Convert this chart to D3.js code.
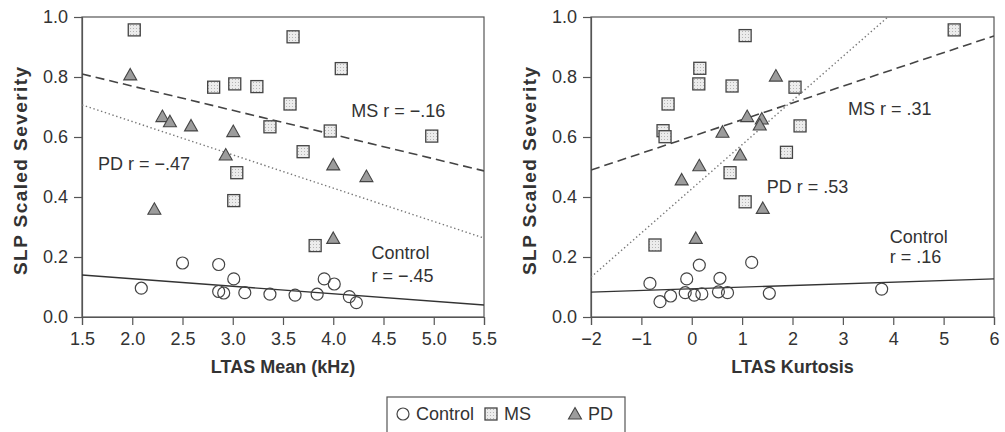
<!DOCTYPE html>
<html><head><meta charset="utf-8">
<script src="https://cdn.jsdelivr.net/npm/d3@7"></script>
<style>
body{margin:0;background:#fff;}
svg{display:block;font-family:"Liberation Sans",Arial,Helvetica,sans-serif;}
</style></head>
<body><svg id="c" width="1005" height="432"></svg>
<script>
// ---- data ----
const meanControl = [[2.09,0.096],[2.50,0.18],[2.86,0.175],[2.86,0.085],[2.91,0.08],[3.01,0.127],[3.12,0.081],[3.37,0.076],[3.62,0.073],[3.84,0.076],[3.91,0.127],[4.01,0.11],[4.16,0.068],[4.23,0.048]];
const meanMS = [[2.02,0.957],[2.81,0.766],[3.02,0.777],[3.24,0.768],[3.60,0.934],[4.08,0.828],[3.57,0.71],[3.37,0.634],[3.97,0.62],[3.70,0.551],[4.98,0.603],[3.04,0.481],[3.01,0.388],[3.82,0.238]];
const meanPD = [[1.98,0.807],[2.30,0.668],[2.375,0.651],[2.585,0.637],[3.005,0.618],[2.93,0.54],[2.22,0.359],[4.0,0.507],[4.33,0.468],[4.0,0.262]];
const kurtControl = [[-0.83,0.112],[-0.63,0.051],[-0.42,0.07],[-0.10,0.127],[-0.13,0.081],[0.05,0.073],[0.15,0.173],[0.20,0.077],[0.56,0.129],[0.53,0.084],[0.71,0.081],[1.19,0.182],[1.54,0.079],[3.77,0.093]];
const kurtMS = [[1.06,0.938],[0.16,0.829],[0.14,0.777],[0.80,0.77],[-0.47,0.71],[-0.57,0.621],[-0.53,0.601],[0.76,0.481],[1.06,0.384],[-0.73,0.24],[5.21,0.957],[2.05,0.766],[2.15,0.637],[1.88,0.549]];
const kurtPD = [[1.67,0.803],[1.10,0.668],[1.39,0.66],[1.35,0.64],[0.61,0.616],[0.96,0.54],[0.15,0.504],[-0.2,0.457],[0.08,0.262],[1.41,0.362]];
// regression lines: [x0,y0,x1,y1]
const meanFits = {MS:[1.5,0.81,5.5,0.487], PD:[1.5,0.707,5.5,0.263], Control:[1.5,0.14,5.5,0.04]};
const kurtFits = {MS:[-2,0.49,6,0.937], PD:[-2,0.133,6,1.31], Control:[-2,0.083,6,0.127]};
const yTicks = [0,0.2,0.4,0.6,0.8,1.0];
const meanTicks = [1.5,2.0,2.5,3.0,3.5,4.0,4.5,5.0,5.5];
const kurtTicks = [-2,-1,0,1,2,3,4,5,6];
const legendItems = ["Control","MS","PD"];

const svg = d3.select("#c");
const TXT = "#333";
const FS = "18px";
const defs = svg.append("defs");
const pat = defs.append("pattern").attr("id","dots").attr("width",3).attr("height",3).attr("patternUnits","userSpaceOnUse");
pat.append("rect").attr("width",3).attr("height",3).attr("fill","#ececec");
pat.append("rect").attr("x",1).attr("y",1).attr("width",1).attr("height",1).attr("fill","#b5b5b5");

function marker(g, type, cx, cy){
  if(type==="Control"){
    g.append("circle").attr("cx",cx).attr("cy",cy).attr("r",6).attr("fill","none").attr("stroke","#444").attr("stroke-width",1.2);
  } else if(type==="MS"){
    g.append("rect").attr("x",cx-6).attr("y",cy-6).attr("width",12).attr("height",12).attr("fill","url(#dots)").attr("stroke","#444").attr("stroke-width",1.3);
  } else {
    const p = d3.path(); p.moveTo(cx,cy-6.5); p.lineTo(cx+6.5,cy+5); p.lineTo(cx-6.5,cy+5); p.closePath();
    g.append("path").attr("d",p.toString()).attr("fill","#9c9c9c").attr("stroke","#444").attr("stroke-width",1.1);
  }
}

function panel(o){
  const x = d3.scaleLinear().domain(o.xdom).range([o.x0,o.x1]);
  const y = d3.scaleLinear().domain([0,1]).range([317,17]);
  const g = svg.append("g");
  const cid = "clip"+o.id;
  defs.append("clipPath").attr("id",cid).append("rect").attr("x",o.x0).attr("y",17).attr("width",o.x1-o.x0).attr("height",300);
  // frame
  g.append("rect").attr("x",o.x0).attr("y",17).attr("width",o.x1-o.x0).attr("height",300).attr("fill","none").attr("stroke","#555").attr("stroke-width",1.2);
  const xa = g.append("g").attr("transform","translate(0,317)").call(d3.axisBottom(x).tickValues(o.xticks).tickFormat(o.xfmt).tickSize(8).tickPadding(7));
  const ya = g.append("g").attr("transform",`translate(${o.x0},0)`).call(d3.axisLeft(y).tickValues(yTicks).tickFormat(d3.format(".1f")).tickSize(8).tickPadding(6));
  [xa,ya].forEach(a=>{a.select(".domain").attr("stroke","#555").attr("stroke-width",1.2);
    a.selectAll(".tick line").attr("stroke","#555").attr("stroke-width",1.2);
    a.selectAll("text").attr("fill",TXT).style("font-size",FS);});
  // titles
  g.append("text").attr("x",(o.x0+o.x1)/2).attr("y",373).attr("text-anchor","middle").attr("fill",TXT).style("font-weight","bold").style("font-size",FS).text(o.xtitle);
  g.append("text").attr("transform",`translate(${o.x0-55},171) rotate(-90)`).attr("text-anchor","middle")
    .attr("textLength",208).attr("fill",TXT).style("font-weight","bold").style("font-size","19px").text("SLP Scaled Severity");
  // fit lines
  const lg = g.append("g").attr("clip-path",`url(#${cid})`);
  const st = {MS:{dash:"9,5",w:1.6,c:"#444"}, PD:{dash:"1.4,2.6",w:1.4,c:"#777"}, Control:{dash:null,w:1.3,c:"#333"}};
  Object.keys(o.fits).forEach(k=>{
    const f=o.fits[k];
    lg.append("line").attr("x1",x(f[0])).attr("y1",y(f[1])).attr("x2",x(f[2])).attr("y2",y(f[3]))
      .attr("stroke",st[k].c).attr("stroke-width",st[k].w).attr("stroke-dasharray",st[k].dash);
  });
  // points
  const pg = g.append("g");
  o.ctrl.forEach(d=>marker(pg,"Control",x(d[0]),y(d[1])));
  o.ms.forEach(d=>marker(pg,"MS",x(d[0]),y(d[1])));
  o.pd.forEach(d=>marker(pg,"PD",x(d[0]),y(d[1])));
  // annotations
  o.notes.forEach(n=>{
    g.append("text").attr("x",x(n[0])).attr("y",y(n[1])).attr("fill",TXT).style("font-size",FS).text(n[2]);
  });
}

panel({id:"a",xdom:[1.5,5.5],x0:82,x1:484,xticks:meanTicks,xfmt:d3.format(".1f"),xtitle:"LTAS Mean (kHz)",
  fits:meanFits,ctrl:meanControl,ms:meanMS,pd:meanPD,
  notes:[[4.18,0.667,"MS r = \u2212.16"],[1.66,0.49,"PD r = \u2212.47"],[4.38,0.193,"Control"],[4.38,0.118,"r = \u2212.45"]]});
panel({id:"b",xdom:[-2,6],x0:591,x1:994,xticks:kurtTicks,xfmt:d3.format("d"),xtitle:"LTAS Kurtosis",
  fits:kurtFits,ctrl:kurtControl,ms:kurtMS,pd:kurtPD,
  notes:[[3.1,0.673,"MS r = .31"],[1.49,0.413,"PD r = .53"],[3.93,0.247,"Control"],[3.93,0.18,"r = .16"]]});

// legend
const lgd = svg.append("g");
lgd.append("rect").attr("x",387).attr("y",397).attr("width",238).attr("height",40).attr("fill","#fff").attr("stroke","#555").attr("stroke-width",1.2);
const lx = d3.scalePoint().domain(legendItems).range([403,575]);
const lo = {Control:0, MS:2, PD:0};
legendItems.forEach(k=>{
  marker(lgd,k,lx(k)+lo[k],414);
  lgd.append("text").attr("x",lx(k)+lo[k]+13).attr("y",420).attr("fill",TXT).style("font-size",FS).text(k);
});
</script></body></html>
